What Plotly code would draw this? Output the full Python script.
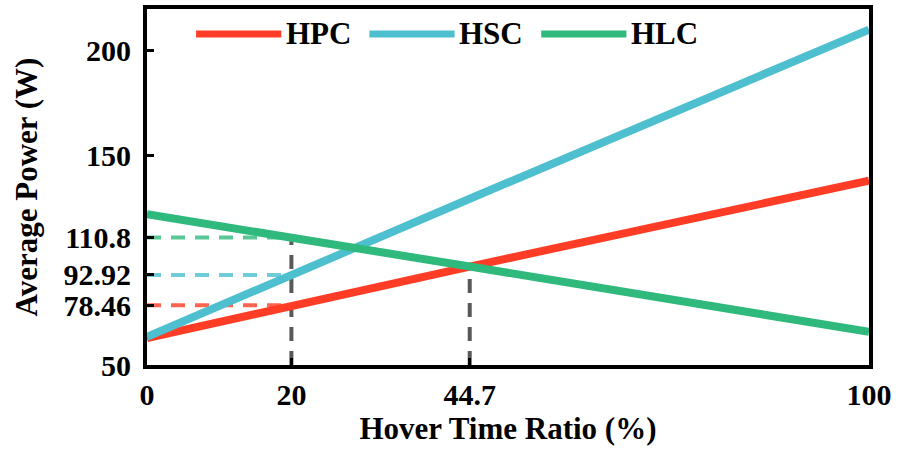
import plotly.graph_objects as go

# ---- data ----
x_ratio = [0, 20, 44.7, 100]
hpc = [62.8, 78.46, 96.9, 137.8]
hsc = [63.4, 92.92, 129.2, 209.8]
hlc = [121.8, 110.8, 96.9, 65.8]

series_names = ["HPC", "HSC", "HLC"]
series_colors = ["#FF3D26", "#4EBFCF", "#2FB97C"]
guide_colors = ["rgba(255,61,38,0.8)", "rgba(78,191,207,0.8)", "rgba(47,185,124,0.8)"]

x_ticks = [0, 20, 44.7, 100]
x_ticklabels = ["0", "20", "44.7", "100"]
y_ticks = [50, 78.46, 92.92, 110.8, 150, 200]
y_ticklabels = ["50", "78.46", "92.92", "110.8", "150", "200"]

guide_y = [78.46, 92.92, 110.8]   # HPC, HSC, HLC values at x=20
cross_y = 96.9                     # HPC = HLC at 44.7

FONT = "Liberation Serif"

fig = go.Figure()

# horizontal coloured guides (from y axis to x=20)
for yv, col in zip(guide_y, guide_colors):
    fig.add_trace(go.Scatter(x=[0, 20], y=[yv, yv], mode="lines",
                             line=dict(color=col, width=4, dash="14px,10px"),
                             showlegend=False, hoverinfo="skip"))

# vertical dark guides
for xv, top in [(20, max(guide_y)), (44.7, cross_y)]:
    fig.add_trace(go.Scatter(x=[xv, xv], y=[50, top], mode="lines",
                             line=dict(color="rgba(60,60,60,0.85)", width=4, dash="14px,10px"),
                             showlegend=False, hoverinfo="skip"))

# main series
for name, ys, col in zip(series_names, [hpc, hsc, hlc], series_colors):
    fig.add_trace(go.Scatter(x=x_ratio, y=ys, mode="lines", name=name,
                             line=dict(color=col, width=8), showlegend=False))

# manual legend (wide line samples as in the reference)
leg_x0 = [0.068, 0.308, 0.546]
for name, col, x0 in zip(series_names, series_colors, leg_x0):
    fig.add_shape(type="line", xref="paper", yref="paper",
                  x0=x0, x1=x0 + 0.118, y0=0.93, y1=0.93,
                  line=dict(color=col, width=7))
    fig.add_annotation(xref="paper", yref="paper", x=x0 + 0.122, y=0.93,
                       text="<b>%s</b>" % name, showarrow=False,
                       xanchor="left", yanchor="middle",
                       font=dict(family=FONT, size=31, color="black"))

axis_common = dict(showline=True, linewidth=4, linecolor="black", mirror=True,
                   ticks="inside", ticklen=7, tickwidth=3, tickcolor="black",
                   showgrid=False, zeroline=False,
                   tickfont=dict(family=FONT, size=30, color="black"))

fig.update_xaxes(range=[0, 100], tickvals=x_ticks,
                 ticktext=["<b>%s</b>" % t for t in x_ticklabels],
                 title=dict(text="<b>Hover Time Ratio (%)</b>", standoff=4,
                            font=dict(family=FONT, size=31, color="black")),
                 **axis_common)
fig.update_yaxes(range=[50, 219.6], tickvals=y_ticks,
                 ticktext=["<b>%s</b>" % t for t in y_ticklabels],
                 ticklabelstandoff=6,
                 title=dict(text="<b>Average Power (W)</b>", standoff=18,
                            font=dict(family=FONT, size=31, color="black")),
                 **axis_common)

fig.update_layout(width=897, height=452,
                  margin=dict(l=147, r=25, t=5, b=87),
                  plot_bgcolor="white", paper_bgcolor="white",
                  showlegend=False)

fig.write_html("out.html", config={"displayModeBar": False},
               post_script="document.body.style.margin='0';document.body.style.overflow='hidden';")
